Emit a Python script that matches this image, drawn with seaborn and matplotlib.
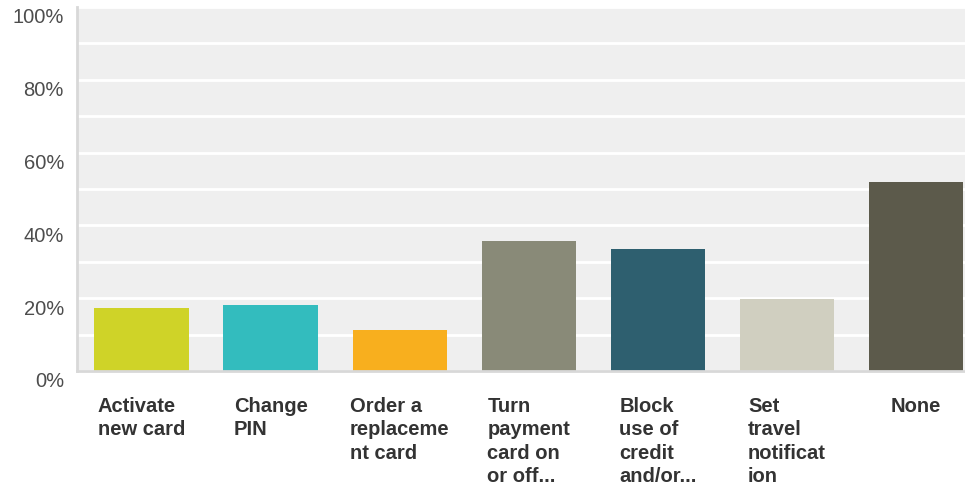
import matplotlib
matplotlib.use("Agg")
import matplotlib.pyplot as plt
import matplotlib.transforms as mtransforms
from matplotlib.ticker import MultipleLocator, FuncFormatter
import seaborn as sns
import pandas as pd

categories = [
    "Activate\nnew card",
    "Change\nPIN",
    "Order a\nreplaceme\nnt card",
    "Turn\npayment\ncard on\nor off...",
    "Block\nuse of\ncredit\nand/or...",
    "Set\ntravel\nnotificat\nion",
    "None",
]
values = [17.3, 18.2, 11.2, 35.6, 33.4, 19.8, 51.9]
colors = ["#cfd328", "#33bcbe", "#f8af1e", "#898a78", "#2e5f6f", "#d0cfc0", "#5c5a4b"]

df = pd.DataFrame({"option": categories, "pct": values})

sns.set_theme(style="white")
plt.rcParams["font.family"] = ["Liberation Sans", "DejaVu Sans"]

fig = plt.figure(figsize=(9.65, 4.85), dpi=100)
ax = fig.add_axes([77 / 965, 113 / 485, 1 - 77 / 965, (372 - 8) / 485])
ax.set_facecolor("#efefef")

sns.barplot(data=df, x="option", y="pct", hue="option", palette=colors,
            width=0.73, legend=False, ax=ax, saturation=1, linewidth=0)

ax.set_ylim(0, 100)
ax.set_xlim(-0.5, 6.38)
ax.yaxis.set_major_locator(MultipleLocator(20))
ax.yaxis.set_minor_locator(MultipleLocator(10))
ax.yaxis.set_major_formatter(FuncFormatter(lambda v, _: f"{v:.0f}%"))
ax.grid(True, which="both", axis="y", color="white", linewidth=2)
ax.set_axisbelow(True)

for side in ("top", "right"):
    ax.spines[side].set_visible(False)
for side in ("left", "bottom"):
    ax.spines[side].set_color("#d8d8d8")
    ax.spines[side].set_linewidth(2)

ax.set_xlabel("")
ax.set_ylabel("")
ax.tick_params(axis="both", which="both", length=0)
ax.tick_params(axis="y", labelsize=14.5, labelcolor="#4d4d4d", pad=13)
ax.tick_params(axis="x", labelsize=14.5, labelcolor="#333333", pad=18)

shift = mtransforms.ScaledTranslation(5 / 100, -8 / 100, fig.dpi_scale_trans)
for lab in ax.get_yticklabels():
    lab.set_transform(lab.get_transform() + shift)

for lab in ax.get_xticklabels():
    lab.set_fontweight("bold")
    lab.set_multialignment("left")
    lab.set_linespacing(1.3)
    lab.set_verticalalignment("top")

fig.savefig("out.png", dpi=100)
